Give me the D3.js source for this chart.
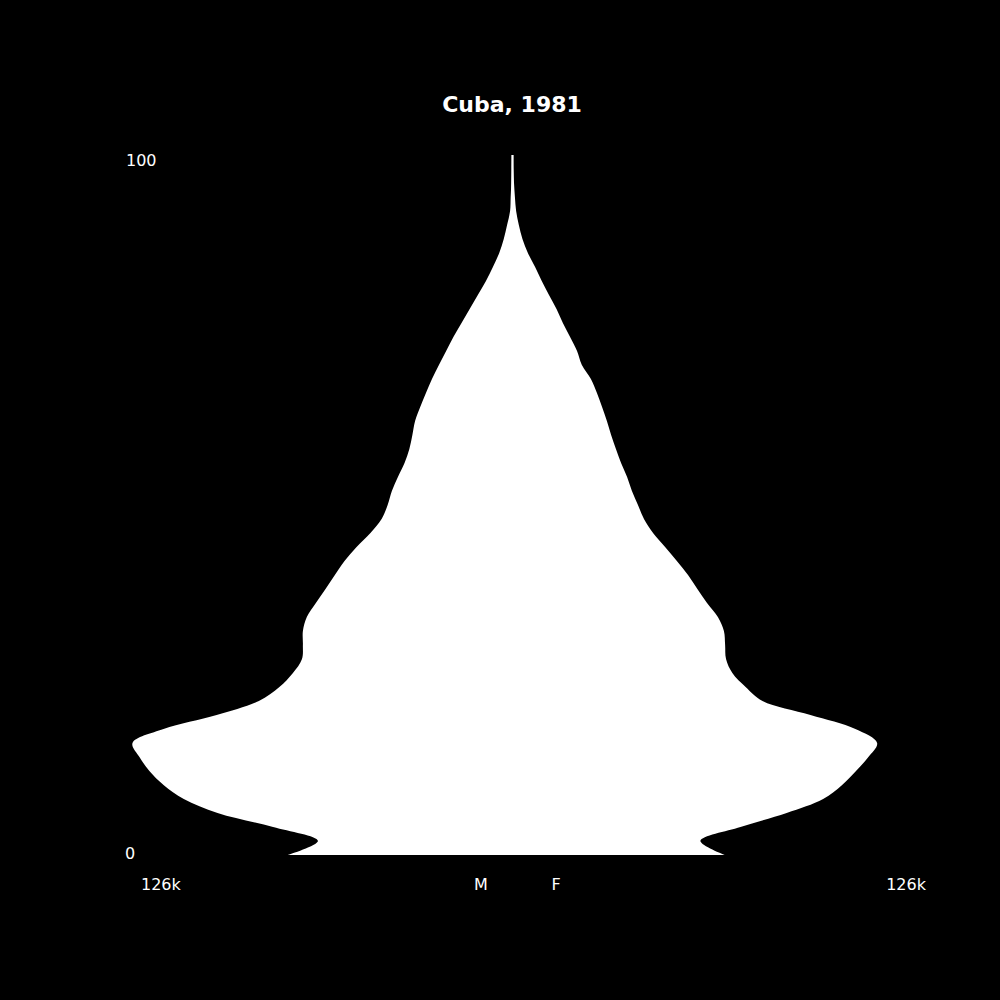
<!DOCTYPE html>
<html>
<head>
<meta charset="utf-8">
<script src="https://cdn.jsdelivr.net/npm/d3@7"></script>
<style>
  html, body { margin: 0; padding: 0; background: #000; }
  svg { display: block; }
</style>
</head>
<body>
<svg id="svg" width="1000" height="1000"></svg>
<script>
/* globals d3 */

// single ages, two years apart
var ages = [0, 2, 4, 6, 8, 10, 12, 14, 16, 18, 20, 22, 24, 26, 28, 30, 32, 34, 36, 38, 40,
  42, 44, 46, 48, 50, 52, 54, 56, 58, 60, 62, 64, 66, 68, 70, 72, 74, 76, 78, 80,
  82, 84, 86, 88, 90, 92, 94, 96, 98, 100];

var male = [74400, 64500, 79400, 97800, 109000, 115700, 120400, 123700, 126000, 115700, 98100,
  84100, 77300, 72800, 69800, 69500, 69500, 68200, 65200, 62000, 58900,
  55700, 51700, 47100, 43400, 41400, 40000, 38000, 35800, 34200, 33200,
  32300, 30600, 28700, 26700, 24400, 22000, 19600, 16900, 14200, 11500,
  8800, 6500, 4400, 2900, 1800, 800, 600, 400, 300, 250];

var female = [70300, 62300, 75600, 90900, 103000, 109300, 113900, 118000, 120900, 113700, 98800,
  82900, 77300, 72900, 70800, 70500, 70100, 68100, 64500, 61300, 58200,
  54500, 50600, 46600, 43600, 41600, 39600, 38000, 36000, 34300, 32700,
  31300, 29700, 28000, 26000, 23000, 21400, 19100, 16700, 14600, 12100,
  9700, 7500, 5100, 3300, 2100, 1200, 800, 500, 300, 250];

var title = 'Cuba, 1981';
var ageLabels = ['0', '100'];
var sideLabels = ['M', 'F'];
var maxLabel = '126k';

var PYRAMID = (function() {
  let pyramid = {};
  let svg = d3.select('svg');

  let settings = {
    center: 512.5,
    halfWidth: 380,
    top: 155,
    bottom: 855,
    font: 'DejaVu Sans, Liberation Sans, sans-serif'
  };

  let x = d3.scaleLinear().domain([0, d3.max(male.concat(female))]).range([0, settings.halfWidth]);
  let y = d3.scaleLinear().domain([0, 100]).range([settings.bottom, settings.top]);

  /* INIT */
  pyramid.init = function() {
    svg.append('rect')
      .attr('width', 1000).attr('height', 1000)
      .attr('fill', '#000');

    pyramid.drawSide(male, -1);
    pyramid.drawSide(female, 1);
    pyramid.drawText();
  };

  pyramid.drawSide = function(values, dir) {
    var rows = ages.map(function(a, i) { return { age: a, value: values[i] }; });

    // overlap the two halves a little so no seam shows in the middle
    var area = d3.area()
      .y(function(d) { return y(d.age); })
      .x0(settings.center - dir)
      .x1(function(d) { return settings.center + dir * Math.max(0.7, x(d.value)); })
      .curve(d3.curveCatmullRom.alpha(0.5));

    svg.append('path')
      .datum(rows)
      .attr('d', area)
      .attr('fill', '#fff');
  };

  pyramid.drawText = function() {
    svg.append('text')
      .attr('x', 512).attr('y', 112)
      .attr('text-anchor', 'middle')
      .attr('font-family', settings.font)
      .attr('font-size', 22)
      .attr('font-weight', 'bold')
      .attr('fill', '#fff')
      .text(title);

    var lab = svg.append('g')
      .attr('font-family', settings.font)
      .attr('font-size', 16)
      .attr('fill', '#fff');

    lab.append('text').attr('x', 125).attr('y', 859).text(ageLabels[0]);
    lab.append('text').attr('x', 126).attr('y', 166).text(ageLabels[1]);

    lab.append('text').attr('x', 481).attr('y', 890).attr('text-anchor', 'middle').text(sideLabels[0]);
    lab.append('text').attr('x', 556).attr('y', 890).attr('text-anchor', 'middle').text(sideLabels[1]);

    lab.append('text').attr('x', 141).attr('y', 890).text(maxLabel);
    lab.append('text').attr('x', 926).attr('y', 890).attr('text-anchor', 'end').text(maxLabel);
  };

  return pyramid;
})();

PYRAMID.init();
</script>
</body>
</html>
